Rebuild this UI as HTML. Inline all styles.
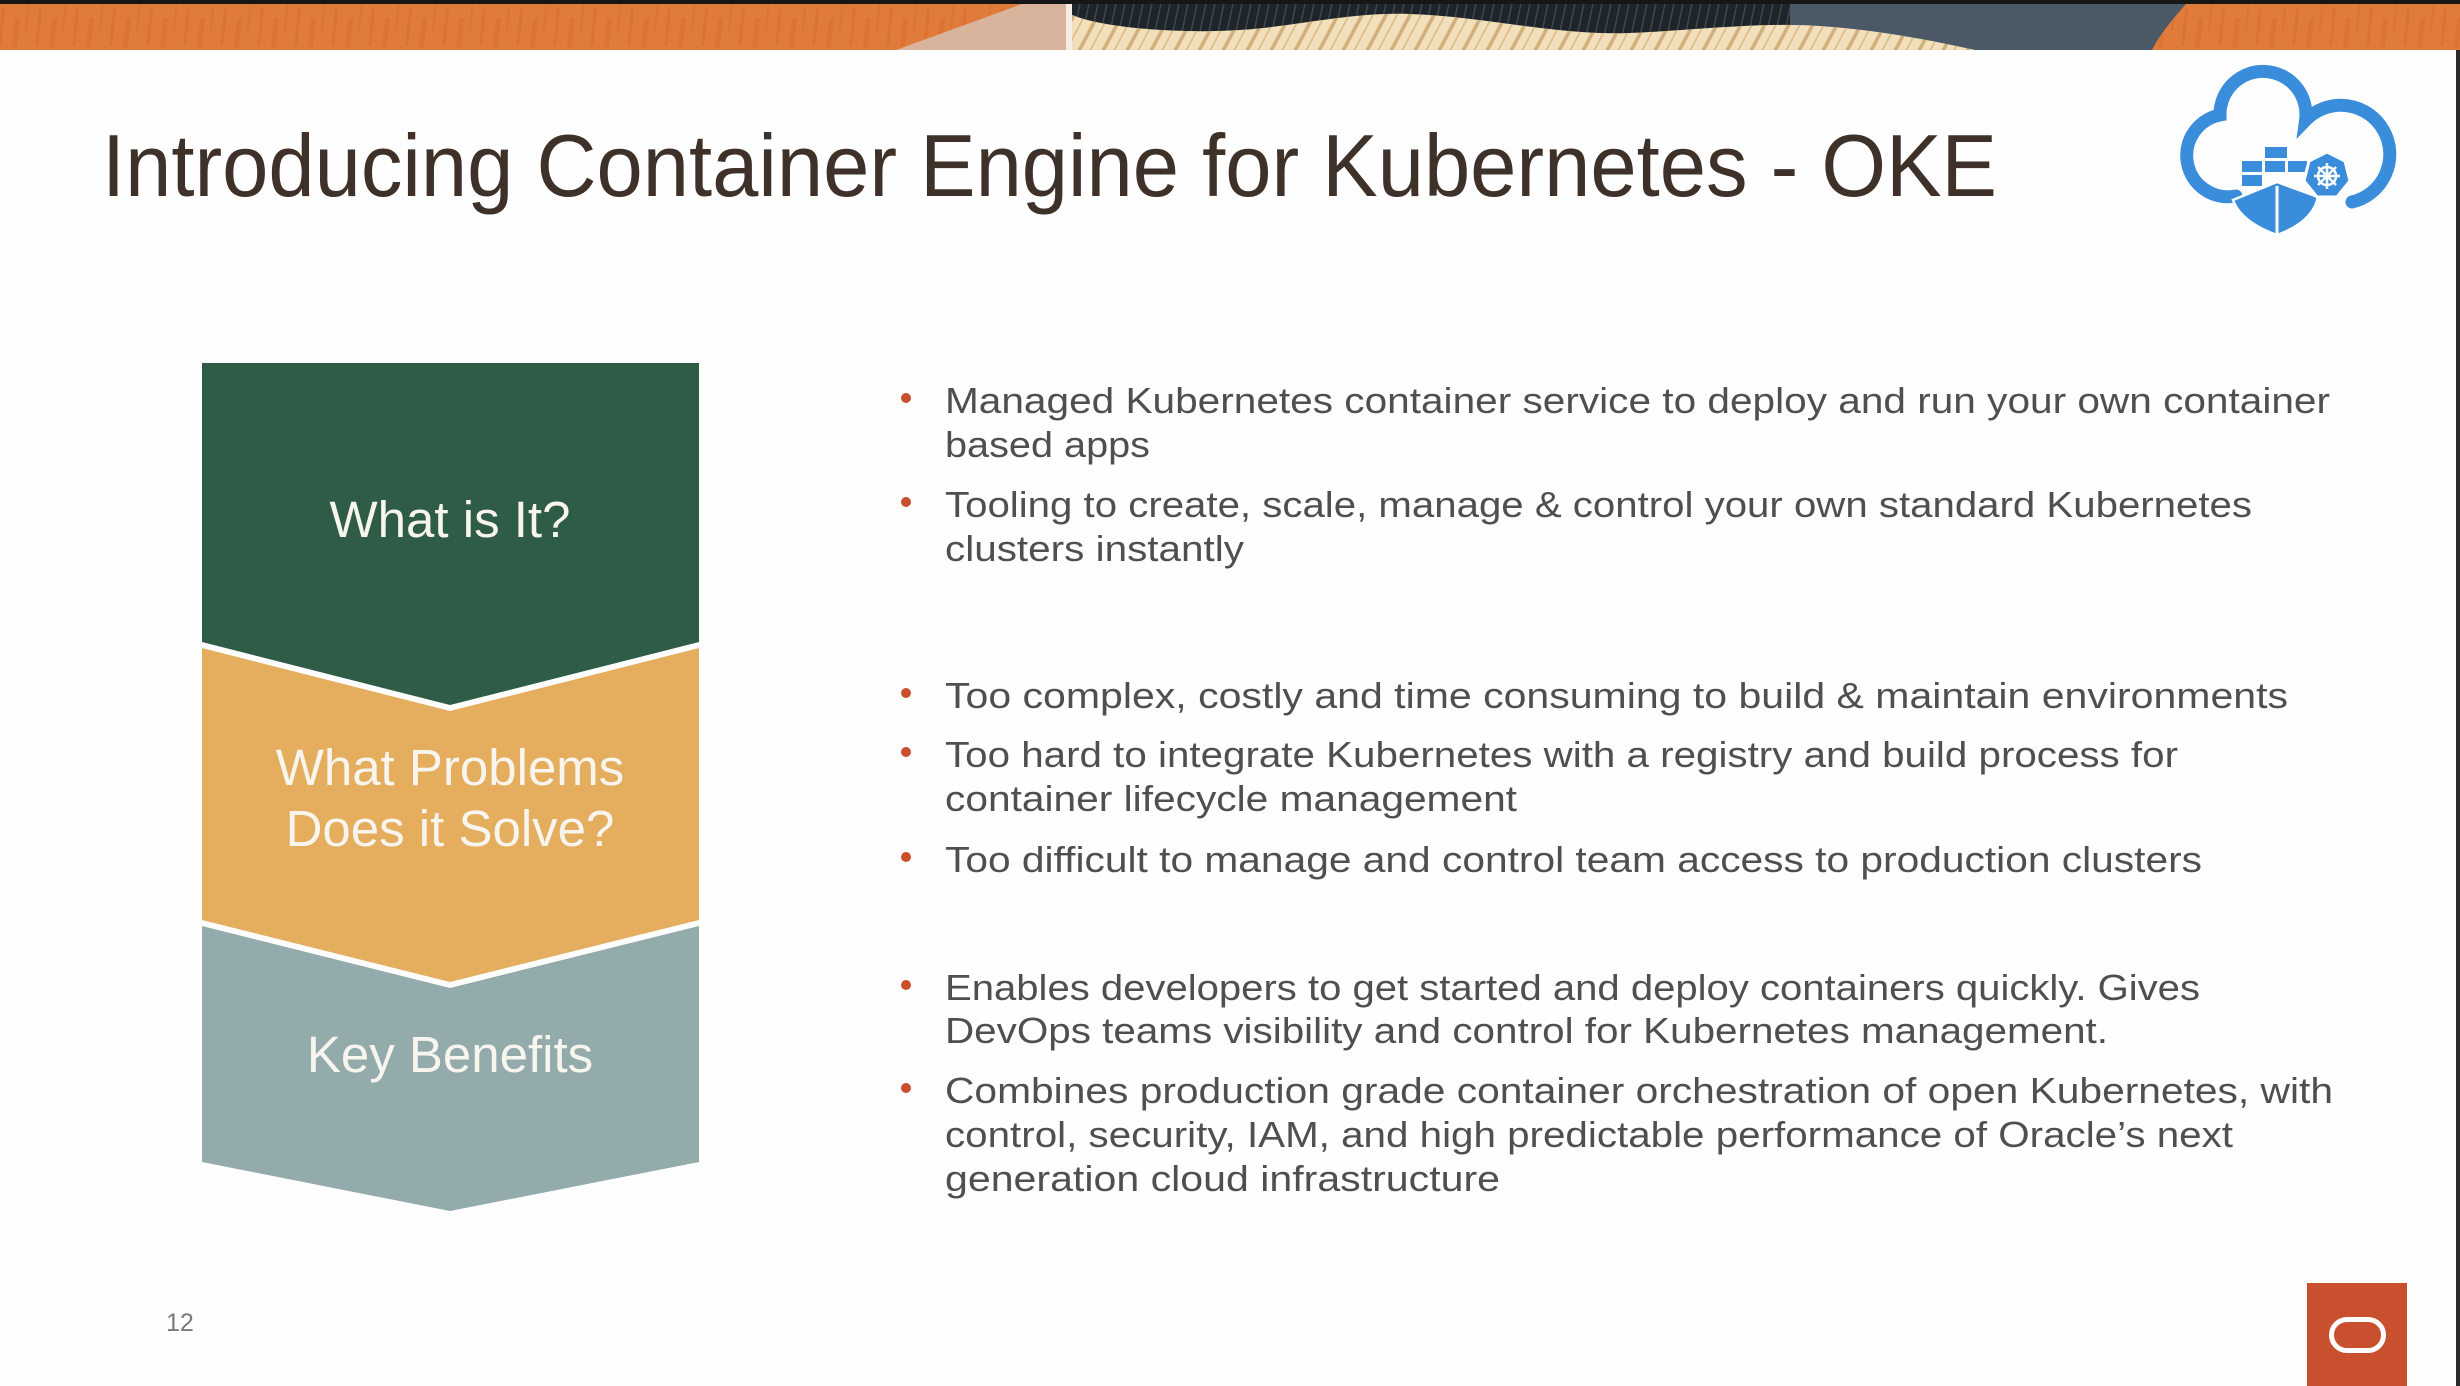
<!DOCTYPE html>
<html>
<head>
<meta charset="utf-8">
<style>
html,body{margin:0;padding:0;background:#fefefe;}
body{width:2460px;height:1386px;overflow:hidden;}
svg{display:block;}
</style>
</head>
<body>
<svg width="2460" height="1386" viewBox="0 0 2460 1386" xmlns="http://www.w3.org/2000/svg">
  <defs>
    <pattern id="st" width="24" height="60" patternUnits="userSpaceOnUse" patternTransform="skewX(-28)">
      <rect x="0" y="0" width="4" height="60" fill="#c9a46c"/>
      <rect x="12" y="0" width="2" height="60" fill="#d6b680"/>
    </pattern>
    <pattern id="bk" width="9" height="60" patternUnits="userSpaceOnUse" patternTransform="skewX(-12)">
      <rect x="0" y="0" width="1.5" height="60" fill="#3d4854"/>
    </pattern>
    <pattern id="or" width="37" height="50" patternUnits="userSpaceOnUse" patternTransform="skewX(-6)">
      <rect x="3" y="8" width="3" height="38" fill="#d2601d" opacity="0.35"/>
      <rect x="17" y="18" width="5" height="30" fill="#d2601d" opacity="0.3"/>
      <rect x="28" y="4" width="2" height="26" fill="#d2601d" opacity="0.3"/>
    </pattern>
  </defs>

  <!-- background -->
  <rect x="0" y="0" width="2460" height="1386" fill="#fefefe"/>

  <!-- top banner -->
  <rect x="0" y="0" width="2460" height="50" fill="#e17b3c"/>
  <rect x="0" y="0" width="2460" height="50" fill="url(#or)"/>
  <polygon points="896,50 1022,4 1068,4 1068,50" fill="#d9b49c"/>
  <rect x="1068" y="4" width="722" height="46" fill="#1f2429"/>
  <rect x="1068" y="4" width="722" height="46" fill="url(#bk)"/>
  <rect x="1790" y="4" width="400" height="46" fill="#4b5966"/>
  <path d="M2186,4 C2172,20 2160,34 2152,50 L2460,50 L2460,4 Z" fill="#e17b3c"/>
  <path d="M2186,4 C2172,20 2160,34 2152,50 L2460,50 L2460,4 Z" fill="url(#or)"/>
  <path d="M1070,14 C1100,28 1180,34 1240,30 C1300,26 1350,12 1410,14 C1480,16 1560,36 1630,33 C1700,30 1760,22 1820,26 C1880,30 1940,42 1975,50 L1070,50 Z" fill="#f1e0bb"/>
  <path d="M1070,14 C1100,28 1180,34 1240,30 C1300,26 1350,12 1410,14 C1480,16 1560,36 1630,33 C1700,30 1760,22 1820,26 C1880,30 1940,42 1975,50 L1070,50 Z" fill="url(#st)" opacity="0.8"/>
  <rect x="1066" y="4" width="6" height="46" fill="#f6ede2"/>
  <rect x="0" y="0" width="2460" height="4" fill="#161616"/>

  <!-- right dark edge -->
  <rect x="2456" y="50" width="4" height="1336" fill="#2a2a2a"/>

  <!-- title -->
  <text x="102" y="196" font-family="Liberation Sans, sans-serif" font-size="88" fill="#3e3129" textLength="1895" lengthAdjust="spacingAndGlyphs">Introducing Container Engine for Kubernetes - OKE</text>

  <!-- cloud icon -->
  <g>
    <path d="M2236,196 A41,41 0 0 1 2220,115 A43,43 0 1 1 2305.6,120.2 A49,49 0 1 1 2352,202" fill="none" stroke="#3a8ddb" stroke-width="13" stroke-linecap="round"/>
    <g fill="#3a8ddb">
      <rect x="2265" y="147" width="22" height="11"/>
      <rect x="2242" y="161" width="20" height="11"/>
      <rect x="2265" y="161" width="20" height="11"/>
      <rect x="2288" y="161" width="19" height="11"/>
      <rect x="2242" y="175" width="20" height="11"/>
    </g>
    <path d="M2233,200 L2277,182 L2318,197 Q2313,222 2277,235 Q2241,222 2233,200 Z" fill="#3a8ddb" stroke="#ffffff" stroke-width="2.5"/>
    <rect x="2275.5" y="186" width="3" height="48" fill="#ffffff"/>
    <polygon points="2327,152 2345,161 2350,181 2337,197 2317,197 2304,181 2309,161" fill="#3a8ddb" stroke="#ffffff" stroke-width="3"/>
    <g stroke="#ffffff" stroke-width="2.5" fill="none">
      <circle cx="2327" cy="176" r="9"/>
      <line x1="2327" y1="163" x2="2327" y2="189"/>
      <line x1="2314" y1="176" x2="2340" y2="176"/>
      <line x1="2318" y1="167" x2="2336" y2="185"/>
      <line x1="2336" y1="167" x2="2318" y2="185"/>
    </g>
    <circle cx="2327" cy="176" r="3" fill="#ffffff"/>
  </g>

  <!-- chevron stack -->
  <polygon points="202,363 699,363 699,642 450,705 202,642" fill="#2f5c47"/>
  <polygon points="202,648 450,711 699,648 699,920 450,982 202,920" fill="#e5ae5f"/>
  <polygon points="202,926 450,988 699,926 699,1162 450,1211 202,1162" fill="#94abab"/>

  <g font-family="Liberation Sans, sans-serif" font-size="51" fill="#f7f5ee" text-anchor="middle">
    <text x="450" y="537">What is It?</text>
    <text x="450" y="785">What Problems</text>
    <text x="450" y="846">Does it Solve?</text>
    <text x="450" y="1072">Key Benefits</text>
  </g>

  <!-- bullets -->
  <g fill="#c9502b">
    <circle cx="906" cy="398" r="5"/>
    <circle cx="906" cy="502" r="5"/>
    <circle cx="906" cy="693" r="5"/>
    <circle cx="906" cy="752" r="5"/>
    <circle cx="906" cy="857" r="5"/>
    <circle cx="906" cy="985" r="5"/>
    <circle cx="906" cy="1088" r="5"/>
  </g>

  <g font-family="Liberation Sans, sans-serif" font-size="36" fill="#4f4f4f">
    <text x="945" y="413" textLength="1385" lengthAdjust="spacingAndGlyphs">Managed Kubernetes container service to deploy and run your own container</text>
    <text x="945" y="457" textLength="205" lengthAdjust="spacingAndGlyphs">based apps</text>
    <text x="945" y="517" textLength="1307" lengthAdjust="spacingAndGlyphs">Tooling to create, scale, manage &amp; control your own standard Kubernetes</text>
    <text x="945" y="561" textLength="299" lengthAdjust="spacingAndGlyphs">clusters instantly</text>

    <text x="945" y="708" textLength="1343" lengthAdjust="spacingAndGlyphs">Too complex, costly and time consuming to build &amp; maintain environments</text>
    <text x="945" y="767" textLength="1233" lengthAdjust="spacingAndGlyphs">Too hard to integrate Kubernetes with a registry and build process for</text>
    <text x="945" y="811" textLength="572" lengthAdjust="spacingAndGlyphs">container lifecycle management</text>
    <text x="945" y="872" textLength="1257" lengthAdjust="spacingAndGlyphs">Too difficult to manage and control team access to production clusters</text>

    <text x="945" y="1000" textLength="1255" lengthAdjust="spacingAndGlyphs">Enables developers to get started and deploy containers quickly. Gives</text>
    <text x="945" y="1043" textLength="1163" lengthAdjust="spacingAndGlyphs">DevOps teams visibility and control for Kubernetes management.</text>
    <text x="945" y="1103" textLength="1388" lengthAdjust="spacingAndGlyphs">Combines production grade container orchestration of open Kubernetes, with</text>
    <text x="945" y="1147" textLength="1288" lengthAdjust="spacingAndGlyphs">control, security, IAM, and high predictable performance of Oracle’s next</text>
    <text x="945" y="1191" textLength="555" lengthAdjust="spacingAndGlyphs">generation cloud infrastructure</text>
  </g>

  <!-- slide number -->
  <text x="166" y="1331" font-family="Liberation Sans, sans-serif" font-size="25" fill="#7a7a7a">12</text>

  <!-- oracle logo -->
  <rect x="2307" y="1283" width="100" height="103" fill="#c9502f"/>
  <rect x="2331.5" y="1319.5" width="52" height="31" rx="15.5" ry="15.5" fill="none" stroke="#ffffff" stroke-width="5"/>
</svg>
</body>
</html>
